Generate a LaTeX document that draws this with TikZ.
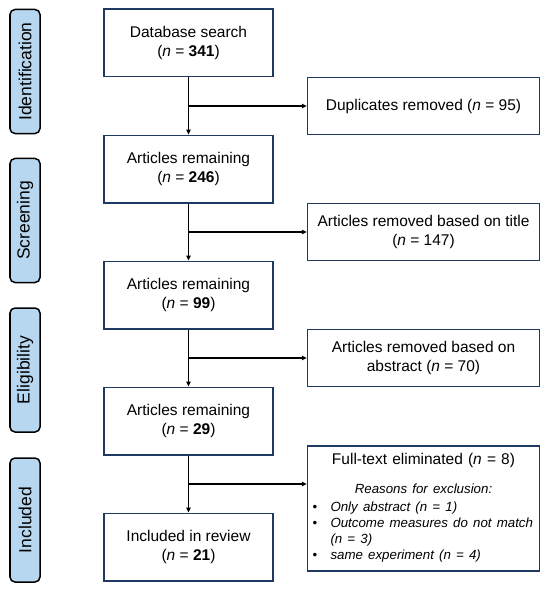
\documentclass[tikz,border=0pt]{standalone}
\usepackage{fontspec}
\setmainfont{Liberation Sans}
\usepackage{xcolor}
\usetikzlibrary{arrows.meta,positioning,calc}
\definecolor{boxnavy}{HTML}{1F3A60}
\definecolor{stagefill}{HTML}{B7D7F0}
\newcommand{\reasonfont}{\fontsize{13.3bp}{16bp}\selectfont\itshape}
\newcommand{\reason}[1]{\par\noindent\hangindent=19bp\hangafter=1\makebox[19bp][l]{\hspace{1bp}\upshape\textbullet}#1}
\tikzset{
    flow-box/.style={
        rectangle,
        draw=boxnavy,
        line width=1.5bp,
        minimum width=169bp,
        minimum height=67.5bp,
        align=center,
        font=\fontsize{15.5bp}{19bp}\selectfont
    },
    side-box/.style={
        flow-box,
        minimum width=232bp,
        minimum height=57bp
    },
    stage-box/.style={
        rectangle,
        rounded corners=5bp,
        draw=black,
        fill=stagefill,
        line width=1.5bp,
        minimum width=124bp,
        minimum height=30bp,
        rotate=90,
        font=\fontsize{17.5bp}{20bp}\selectfont
    },
    flow-arrow/.style={
        draw,
        line width=1.2bp,
        -{Triangle[length=5bp,width=4.5bp]}
    }
}
\begin{document}
\begin{tikzpicture}[x=1bp,y=-1bp]
       \useasboundingbox (0,0) rectangle (550,591);

       % Stages
       \node[stage-box] (ident) at (25,71.5) {Identification};
       \node[stage-box] (screen) at (25,220.5) {Screening};
       \node[stage-box] (elig) at (25,370) {Eligibility};
       \node[stage-box] (incl) at (25,520) {Included};

       % Main flow
       \node[flow-box] (search) at (188.5,43) {Database search\\(\textit{n} = \textbf{341})};
       \node[flow-box,below=57bp of search] (remain1) {Articles remaining\\(\textit{n} = \textbf{246})};
       \node[flow-box,below=57bp of remain1] (remain2) {Articles remaining\\(\textit{n} = \textbf{99})};
       \node[flow-box,below=57bp of remain2] (remain3) {Articles remaining\\(\textit{n} = \textbf{29})};
       \node[flow-box,below=57bp of remain3] (review) {Included in review\\(\textit{n} = \textbf{21})};

       \coordinate (split1) at ($(search.south)!0.5!(remain1.north)$);
       \coordinate (split2) at ($(remain1.south)!0.5!(remain2.north)$);
       \coordinate (split3) at ($(remain2.south)!0.5!(remain3.north)$);
       \coordinate (split4) at ($(remain3.south)!0.5!(review.north)$);

       % Removed
       \node[side-box,anchor=west] (dupl) at ($(search.east |- split1)+(33,0)$) {Duplicates removed (\textit{n} = 95)};
       \node[side-box,anchor=west] (bytitle) at ($(remain1.east |- split2)+(33,0)$) {Articles removed based on title\\(\textit{n} = 147)};
       \node[side-box,anchor=west] (byabstract) at ($(remain2.east |- split3)+(33,0)$) {Articles removed based on\\abstract (\textit{n} = 70)};
       \node[side-box,anchor=north west,text width=224bp,inner xsep=4bp,inner ysep=8bp,minimum height=0pt] (fulltext) at ($(remain3.east |- split4)+(33,-39)$) {Full-text eliminated (\textit{n} = 8)\par\vspace{13bp}
           {\reasonfont Reasons for exclusion:\par}\vspace{2bp}
           {\raggedright\reasonfont
           \reason{Only abstract (n = 1)}
           \reason{Outcome measures do not match\newline(n = 3)}
           \reason{same experiment (n = 4)}\par}};

       \draw[flow-arrow] (search) -- (remain1);
       \draw[flow-arrow] (remain1) -- (remain2);
       \draw[flow-arrow] (remain2) -- (remain3);
       \draw[flow-arrow] (remain3) -- (review);

       \draw[flow-arrow] (split1) -- (dupl.west);
       \draw[flow-arrow] (split2) -- (bytitle.west);
       \draw[flow-arrow] (split3) -- (byabstract.west);
       \draw[flow-arrow] (split4) -- (split4 -| fulltext.west);

   \end{tikzpicture}
\end{document}
